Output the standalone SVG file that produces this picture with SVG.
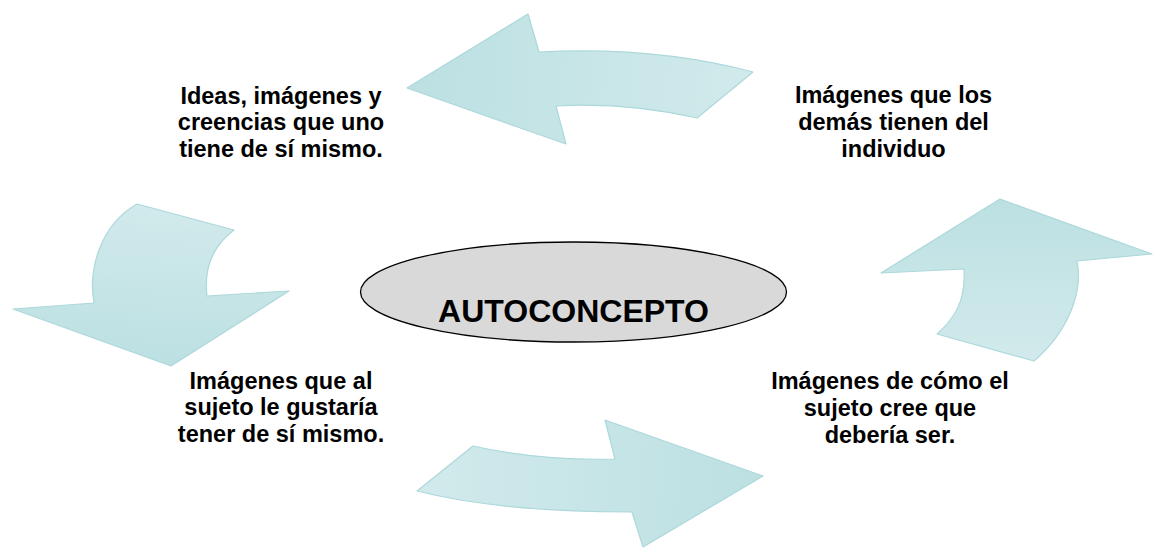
<svg xmlns="http://www.w3.org/2000/svg" width="1153" height="548" viewBox="0 0 1153 548">
<style>
.lbl{font-family:"Liberation Sans",Arial,sans-serif;font-weight:bold;font-size:23.5px;fill:#000;text-anchor:middle}
.arr{stroke:#acd8db;stroke-width:1.2;stroke-linejoin:round}
</style>
<defs>
<linearGradient id="gTop" x1="407" y1="88" x2="753" y2="110" gradientUnits="userSpaceOnUse"><stop offset="0" stop-color="#bce0e2"/><stop offset="1" stop-color="#d2eaec"/></linearGradient>
<linearGradient id="gLeft" x1="180" y1="204" x2="171" y2="366" gradientUnits="userSpaceOnUse"><stop offset="0" stop-color="#d2eaec"/><stop offset="1" stop-color="#bce0e2"/></linearGradient>
<linearGradient id="gRight" x1="1000" y1="199" x2="1000" y2="361" gradientUnits="userSpaceOnUse"><stop offset="0" stop-color="#bce0e2"/><stop offset="1" stop-color="#d2eaec"/></linearGradient>
<linearGradient id="gBot" x1="417" y1="470" x2="763" y2="490" gradientUnits="userSpaceOnUse"><stop offset="0" stop-color="#d2eaec"/><stop offset="1" stop-color="#bce0e2"/></linearGradient>
</defs>
<g id="connectors">
<path id="arrow-top" class="arr" fill="url(#gTop)" d="M407,88 L528,14 L539,52 Q655,46 753,72 L697,118 Q625,102 556,106 L566,144 Z"/>
<path id="arrow-left" class="arr" fill="url(#gLeft)" d="M137,204 L234,230 C218,242 203,262 207,296 L289,291 L171,366 L13,309 L94,303 C88,270 100,225 137,204 Z"/>
<path id="arrow-right" class="arr" fill="url(#gRight)" d="M1000,199 L1152,254 L1077,261 C1083,290 1070,330 1034,361 L937,334 C955,318 966,300 964,269 L881,273 Z"/>
<path id="arrow-bottom" class="arr" fill="url(#gBot)" d="M763,476 L605,420 L615,459 Q540,461 473,446 L417,491 Q500,512 632,512 L643,547 Z"/>
</g>
<g id="node-center">
<ellipse cx="573.5" cy="292" rx="213" ry="50" fill="#d9d9d9" stroke="#000" stroke-width="1.3"/>
<text x="573.5" y="322" font-family="'Liberation Sans',Arial,sans-serif" font-weight="bold" font-size="32" text-anchor="middle" fill="#000">AUTOCONCEPTO</text>
</g>
<g id="node-top-left">
<text class="lbl" x="281" y="104">Ideas, imágenes y</text>
<text class="lbl" x="281" y="130">creencias que uno</text>
<text class="lbl" x="281" y="157">tiene de sí mismo.</text>
</g>
<g id="node-top-right">
<text class="lbl" x="893.5" y="103">Imágenes que los</text>
<text class="lbl" x="893.5" y="130">demás tienen del</text>
<text class="lbl" x="893.5" y="157">individuo</text>
</g>
<g id="node-bottom-left">
<text class="lbl" x="281" y="389">Imágenes que al</text>
<text class="lbl" x="281" y="415">sujeto le gustaría</text>
<text class="lbl" x="281" y="442">tener de sí mismo.</text>
</g>
<g id="node-bottom-right">
<text class="lbl" x="890" y="389">Imágenes de cómo el</text>
<text class="lbl" x="890" y="416">sujeto cree que</text>
<text class="lbl" x="890" y="443">debería ser.</text>
</g>
</svg>
